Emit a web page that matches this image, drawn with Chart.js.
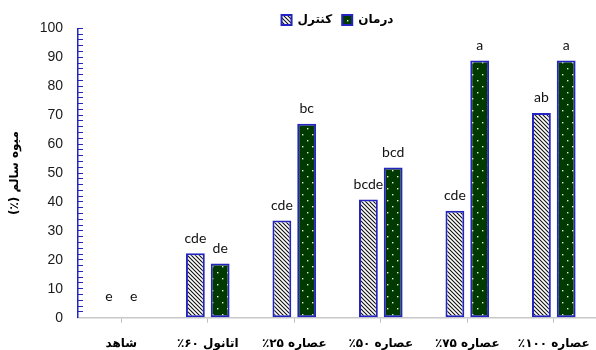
<!DOCTYPE html>
<html lang="fa">
<head>
<meta charset="utf-8">
<title>میوه سالم</title>
<script src="https://cdn.jsdelivr.net/npm/chart.js@4/dist/chart.umd.min.js"></script>
<style>
  html, body { margin: 0; padding: 0; background: #ffffff; overflow: hidden; }
  canvas { display: block; }
</style>
</head>
<body>
<canvas id="chart" width="604" height="350" dir="rtl"></canvas>
<script>
// Treatments along the x axis
const categories = ['شاهد', 'اتانول ۶۰٪', 'عصاره ۲۵٪', 'عصاره ۵۰٪', 'عصاره ۷۵٪', 'عصاره ۱۰۰٪'];

// Healthy fruit (%) per treatment
const controlValues   = [0, 22.3, 33.6, 40.9, 37.0, 70.8];
const treatmentValues = [0, 18.7, 67.0, 51.9, 88.9, 88.9];

// Mean-separation letters shown above each bar
const controlLetters   = ['e', 'cde', 'cde', 'bcde', 'cde', 'ab'];
const treatmentLetters = ['e', 'de', 'bc', 'bcd', 'a', 'a'];

// Labelled values on the y axis (minor ticks every 2 units)
const yTickLabels = [0, 10, 20, 30, 40, 50, 60, 70, 80, 90, 100];

const seriesNames = ['کنترل', 'درمان'];
const axisTitle = 'میوه سالم (٪)';

const BLUE = '#2424c0';

// Diagonal hatch fill for the control bars
function hatchPattern() {
  const t = document.createElement('canvas');
  t.width = 4; t.height = 4;
  const c = t.getContext('2d');
  c.fillStyle = '#ffffff';
  c.fillRect(0, 0, 4, 4);
  c.strokeStyle = '#111111';
  c.lineWidth = 1.1;
  c.beginPath();
  c.moveTo(-1, -1); c.lineTo(5, 5);
  c.moveTo(-1, 3); c.lineTo(1, 5);
  c.moveTo(3, -1); c.lineTo(5, 1);
  c.stroke();
  return c.createPattern(t, 'repeat');
}

// Dark green fill with a staggered grid of light dots for the treatment bars
function dotPattern() {
  const t = document.createElement('canvas');
  t.width = 10; t.height = 12;
  const c = t.getContext('2d');
  c.fillStyle = '#013a01';
  c.fillRect(0, 0, 10, 12);
  c.fillStyle = '#e0f4d0';
  c.fillRect(2, 2, 1.4, 1.4);
  c.fillRect(7, 8, 1.4, 1.4);
  return c.createPattern(t, 'repeat');
}

// Writes the letter above each bar, from the bar's own position
const barLetters = {
  id: 'barLetters',
  afterDatasetsDraw(chart, args, opts) {
    const ctx = chart.ctx;
    ctx.save();
    ctx.font = opts.font;
    ctx.fillStyle = opts.color;
    ctx.textAlign = 'center';
    ctx.textBaseline = 'alphabetic';
    chart.data.datasets.forEach((ds, i) => {
      const meta = chart.getDatasetMeta(i);
      meta.data.forEach((bar, j) => {
        const text = ds.letters[j];
        if (!text) return;
        // empty bars keep their letter clear of the axis line
        const gap = ds.data[j] === 0 ? opts.gapEmpty : opts.gap;
        ctx.fillText(text, bar.x, bar.y - gap);
      });
    });
    ctx.restore();
  }
};

// Moves the legend row to its place above the plot
const legendPlacement = {
  id: 'legendPlacement',
  afterLayout(chart, args, opts) {
    const lg = chart.legend;
    if (!lg) return;
    const h = lg.bottom - lg.top;
    lg.left += opts.dx;
    lg.right += opts.dx;
    lg.top = opts.top;
    lg.bottom = opts.top + h;
  }
};

new Chart(document.getElementById('chart'), {
  type: 'bar',
  data: {
    labels: categories,
    datasets: [
      {
        label: seriesNames[0],
        data: controlValues,
        letters: controlLetters,
        backgroundColor: hatchPattern(),
        borderColor: BLUE,
        borderWidth: 2,
        borderSkipped: false,
        barPercentage: 0.76,
        categoryPercentage: 0.573
      },
      {
        label: seriesNames[1],
        data: treatmentValues,
        letters: treatmentLetters,
        backgroundColor: dotPattern(),
        borderColor: BLUE,
        borderWidth: 2,
        borderSkipped: false,
        barPercentage: 0.76,
        categoryPercentage: 0.573
      }
    ]
  },
  options: {
    responsive: false,
    animation: false,
    events: [],
    layout: { padding: { top: -15, right: 2.4, bottom: 0, left: 0 } },
    scales: {
      x: {
        grid: { offset: false, drawOnChartArea: false, drawTicks: true, tickLength: 5, color: '#bdbdbd', lineWidth: 1 },
        border: { color: '#c8c8c8', width: 1.5 },
        ticks: {
          padding: 14,
          color: '#000000',
          font: { family: 'DejaVu Sans', size: 12, weight: 'bold' },
          maxRotation: 0,
          autoSkip: false
        },
        afterFit(s) { s.height = 32.3; }
      },
      y: {
        min: 0,
        max: 100,
        grid: { drawOnChartArea: false, drawTicks: true, tickLength: -5, color: BLUE, lineWidth: 1 },
        border: { color: BLUE, width: 1.5 },
        ticks: {
          stepSize: 2,
          autoSkip: false,
          padding: 20,
          color: '#1a1a1a',
          font: { family: 'Liberation Sans', size: 14 },
          callback: v => (yTickLabels.includes(v) ? String(v) : '')
        },
        title: {
          display: true,
          text: axisTitle,
          color: '#000000',
          font: { family: 'DejaVu Sans', size: 12, weight: 'bold' },
          padding: { top: 8, bottom: 0 }
        },
        afterFit(s) { s.width = 78; }
      }
    },
    plugins: {
      legend: {
        position: 'top',
        align: 'center',
        labels: {
          boxWidth: 10,
          boxHeight: 10,
          padding: 10,
          color: '#000000',
          font: { family: 'DejaVu Sans', size: 12, weight: 'bold' }
        }
      },
      tooltip: { enabled: false },
      legendPlacement: { dx: 36.7, top: 4 },
      barLetters: { font: '14px Lato', color: '#111111', gap: 10.5, gapEmpty: 17 }
    }
  },
  plugins: [barLetters, legendPlacement]
});
</script>
</body>
</html>
